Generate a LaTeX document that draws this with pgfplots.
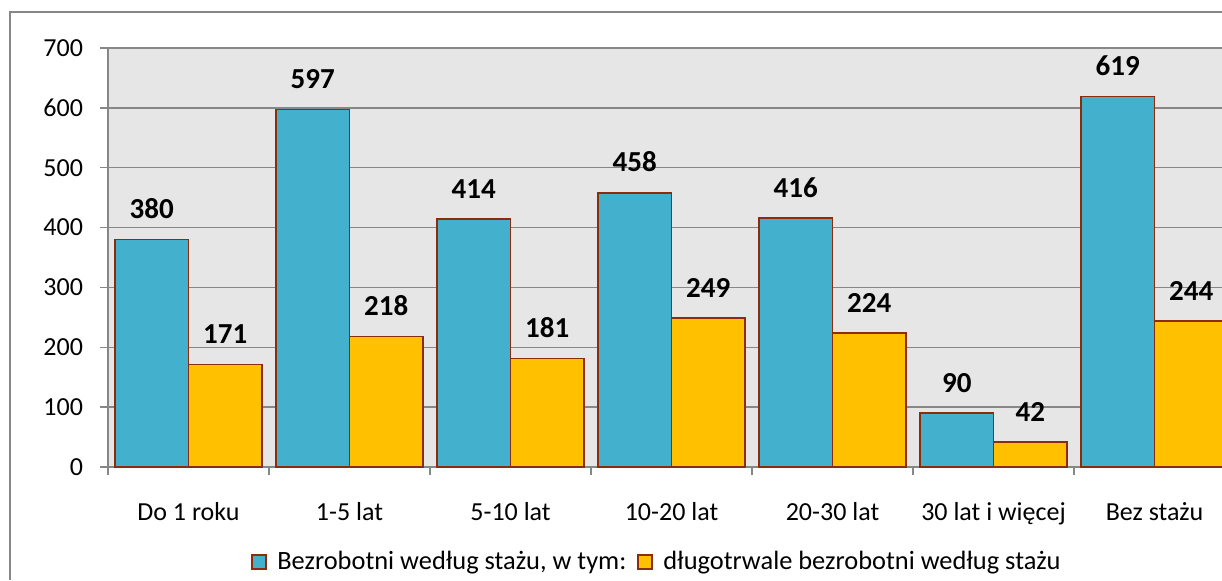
\documentclass[border=0pt]{standalone}
\usepackage{pgfplots}
\pgfplotsset{compat=1.18}
\usepackage{fontspec}
\setmainfont{Carlito}
\definecolor{teal}{HTML}{43B1CE}
\definecolor{gold}{HTML}{FFC000}
\definecolor{barborder}{HTML}{8B2C0C}
\definecolor{axisgray}{HTML}{878787}
\definecolor{bggray}{HTML}{E6E6E6}
\begin{document}
\begin{tikzpicture}
\useasboundingbox (0,0) rectangle (611pt,290pt);
\draw[axisgray, line width=1pt] (5.2pt,0) -- (5.2pt,284pt) -- (611pt,284pt);
\begin{axis}[
  at={(54pt,56.5pt)}, anchor=south west,
  scale only axis, width=557pt, height=209.5pt,
  xmin=-0.5, xmax=6.419, ymin=0, ymax=700,
  ybar=0pt, bar width=0.4565,
  axis x line*=bottom, axis y line*=left,
  axis line style={axisgray, line width=0.9pt},
  axis background/.style={fill=bggray},
  ymajorgrids, grid style={axisgray, line width=0.75pt},
  ytick={0,100,...,700},
  tick align=outside, major tick length=4pt,
  tick style={axisgray, line width=0.75pt},
  xtick={-0.5,0.5,...,5.5}, xticklabels={},
  extra x ticks={0,1,2,3,4,5,6},
  extra x tick labels={Do 1 roku,1-5 lat,5-10 lat,10-20 lat,20-30 lat,30 lat i więcej,Bez stażu},
  extra x tick style={major tick length=0pt, grid=none},
  ticklabel style={font=\fontsize{13}{15}\selectfont},
  /pgf/number format/assume math mode=true,
  xticklabel style={yshift=-14pt},
  yticklabel style={xshift=-5pt},
  nodes near coords,
  every node near coord/.append style={font=\bfseries\fontsize{14.5}{16}\selectfont, anchor=south, inner sep=0pt, yshift=10pt, black},
  legend columns=2,
  legend style={draw=none, fill=none, at={(0.4937,-0.226)}, anchor=center,
    font=\fontsize{13.2}{15}\selectfont,
    /tikz/every even column/.append style={column sep=3.5pt},
    /tikz/every odd column/.append style={column sep=3pt}},
  legend image code/.code={\draw[#1, line width=1pt] (0pt,-3.5pt) rectangle (7pt,3.5pt);},
]
\addplot[fill=teal, draw=barborder, line width=0.75pt] coordinates {(0,380) (1,597) (2,414) (3,458) (4,416) (5,90) (6,619)};
\addplot[fill=gold, draw=barborder, line width=0.75pt] coordinates {(0,171) (1,218) (2,181) (3,249) (4,224) (5,42) (6,244)};
\legend{{Bezrobotni według stażu, w tym:},{długotrwale bezrobotni według stażu}}
\end{axis}
\end{tikzpicture}
\end{document}
